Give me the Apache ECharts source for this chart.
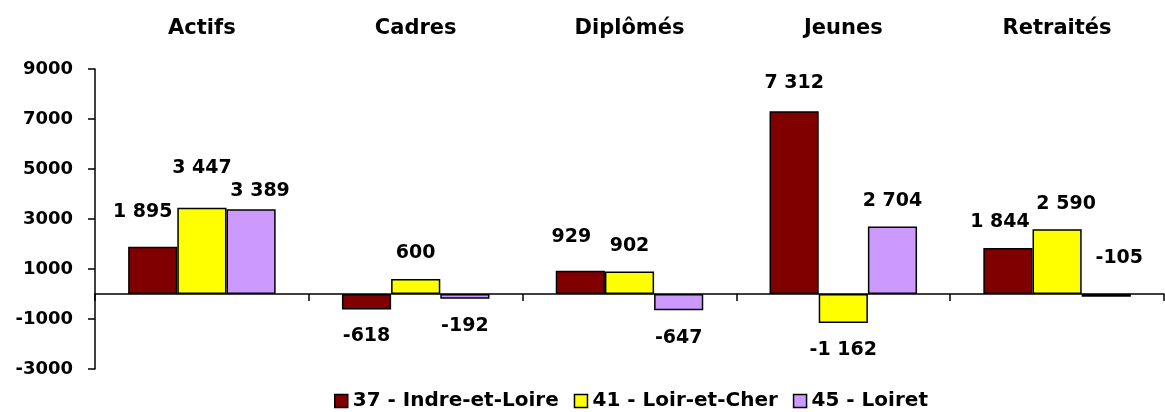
<!DOCTYPE html>
<html>
<head>
<meta charset="utf-8">
<script src="https://cdn.jsdelivr.net/npm/echarts@6/dist/echarts.min.js"></script>
<style>
  html, body { margin: 0; padding: 0; background: #fff; }
  #main { width: 1165px; height: 412px; }
</style>
</head>
<body>
<div id="main"></div>
<script>
var categories = ['Actifs', 'Cadres', 'Diplômés', 'Jeunes', 'Retraités'];
var seriesNames = ['37 - Indre-et-Loire', '41 - Loir-et-Cher', '45 - Loiret'];
var indreEtLoire = [1895, -618, 929, 7312, 1844];
var loirEtCher = [3447, 600, 902, -1162, 2590];
var loiret = [3389, -192, -647, 2704, -105];
var colors = ['#800000', '#ffff00', '#cc99ff'];

// nudges so the labels sit where they were dragged to in the original
// [category][series] -> [dx, dy]
var labelShift = [
    [[-10, -9], [0, -14], [9, 7]],
    [[0, 1], [0, 0], [0, 2]],
    [[-9, -8], [0, 0], [0, 2]],
    [[0, -3], [0, 2], [0, 0]],
    [[-8, 0], [9, 0], [13, -10]]
];

function fmt(v) {
    var s = String(Math.abs(v)).replace(/\B(?=(\d{3})+(?!\d))/g, ' ');
    return (v < 0 ? '-' : '') + s;
}

var font = 'DejaVu Sans';

function makeSeries(name, values, idx) {
    return {
        name: name,
        type: 'bar',
        barGap: 0,
        barCategoryGap: '31%',
        itemStyle: { color: colors[idx], borderColor: '#000', borderWidth: 1.5 },
        data: values.map(function (v, i) {
            // the -105 label of Retraités sits above the axis in the original
            var below = v < 0 && !(i === 4 && idx === 2);
            return {
                value: v,
                label: {
                    show: true,
                    position: below ? 'bottom' : 'top',
                    distance: 16,
                    offset: labelShift[i][idx]
                }
            };
        }),
        label: {
            color: '#000',
            fontFamily: font,
            fontWeight: 'bold',
            fontSize: 19,
            formatter: function (p) { return fmt(p.value); }
        }
    };
}

var chart = echarts.init(document.getElementById('main'));
chart.setOption({
    animation: false,
    textStyle: { fontFamily: font },
    grid: { left: 95, right: 1, top: 69, bottom: 43, containLabel: false },
    legend: {
        left: 334,
        top: 391,
        padding: 0,
        icon: 'rect',
        itemWidth: 13,
        itemHeight: 13,
        itemGap: 15,
        itemStyle: { borderColor: '#000', borderWidth: 1.5 },
        textStyle: { fontFamily: font, fontWeight: 'bold', fontSize: 20, color: '#000' },
        data: seriesNames
    },
    xAxis: [{
        type: 'category',
        data: categories,
        position: 'bottom',
        axisLine: { onZero: true, lineStyle: { color: '#000', width: 1.5 } },
        axisTick: { show: true, length: 7, lineStyle: { color: '#000', width: 1.5 } },
        axisLabel: { show: false }
    }, {
        type: 'category',
        data: categories,
        position: 'top',
        axisLine: { show: false },
        axisTick: { show: false },
        axisLabel: {
            margin: 30,
            color: '#000',
            fontFamily: font,
            fontWeight: 'bold',
            fontSize: 21
        }
    }],
    yAxis: {
        type: 'value',
        min: -3000,
        max: 9000,
        interval: 2000,
        splitLine: { show: false },
        axisLine: { show: true, onZero: false, lineStyle: { color: '#000', width: 1.5 } },
        axisTick: { show: true, length: 7, lineStyle: { color: '#000', width: 1.5 } },
        axisLabel: {
            margin: 22,
            color: '#000',
            fontFamily: font,
            fontWeight: 'bold',
            fontSize: 18,
            formatter: function (v) { return String(v); }
        }
    },
    series: [
        makeSeries(seriesNames[0], indreEtLoire, 0),
        makeSeries(seriesNames[1], loirEtCher, 1),
        makeSeries(seriesNames[2], loiret, 2)
    ]
});
</script>
</body>
</html>
